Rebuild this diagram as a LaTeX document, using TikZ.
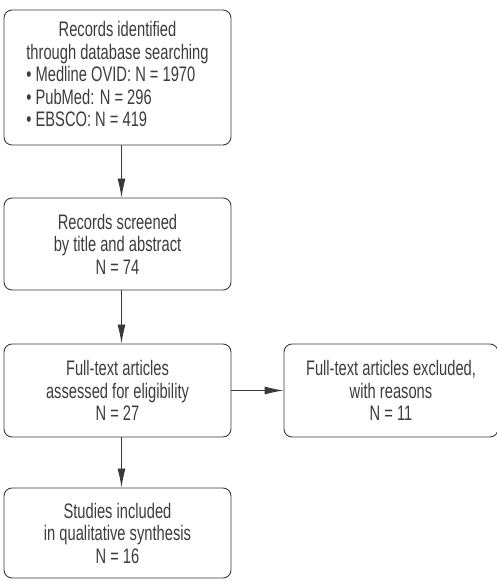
\documentclass[tikz,border=0pt]{standalone}
\usepackage{fontspec}
\setmainfont{Liberation Sans}[FakeStretch=0.70]
\usetikzlibrary{arrows.meta}
\definecolor{linegray}{HTML}{3A3A3A}
\definecolor{textgray}{HTML}{3C3C3C}
\begin{document}
\begin{tikzpicture}[x=1pt, y=1pt,
        box/.style={draw=linegray, line width=0.9pt, rounded corners=8pt, minimum width=227pt, align=center, text=textgray, font=\fontsize{21}{22.5}\selectfont},
        arrow/.style={draw=linegray, line width=0.9pt, -{Latex[length=19pt, width=8pt]}}
    ]
        \useasboundingbox (0,0) rectangle (497,581);

        % main flow
        \node[box, minimum height=135pt] (records) at (117.5, 503.5) {%
            \begin{tabular}{@{}l@{}}
            \multicolumn{1}{@{}c@{}}{Records identified}\\
            \multicolumn{1}{@{}c@{}}{through database searching}\\
            \textbullet{} Medline OVID: N = 1970\\
            \textbullet{} PubMed: N = 296\\
            \textbullet{} EBSCO: N = 419
            \end{tabular}};
        \node[box, minimum height=92pt] (screened) at (117.5, 337) {Records screened\\by title and abstract\\N = 74};
        \node[box, minimum height=93pt] (fulltext) at (117.5, 190.5) {Full-text articles\\assessed for eligibility\\N = 27};
        \node[box, minimum height=90pt] (included) at (117.5, 48) {Studies included\\in qualitative synthesis\\N = 16};

        % excluded
        \node[box, minimum width=214pt, minimum height=93pt] (excluded) at (391, 190.5) {Full-text articles excluded,\\with reasons\\N = 11};

        \draw[arrow] ([xshift=4pt]records.south) -- ([xshift=4pt]screened.north);
        \draw[arrow] ([xshift=4pt]screened.south) -- ([xshift=4pt]fulltext.north);
        \draw[arrow] ([xshift=4pt]fulltext.south) -- ([xshift=4pt]included.north);
        \draw[arrow] (fulltext) -- (excluded);
    \end{tikzpicture}
\end{document}
